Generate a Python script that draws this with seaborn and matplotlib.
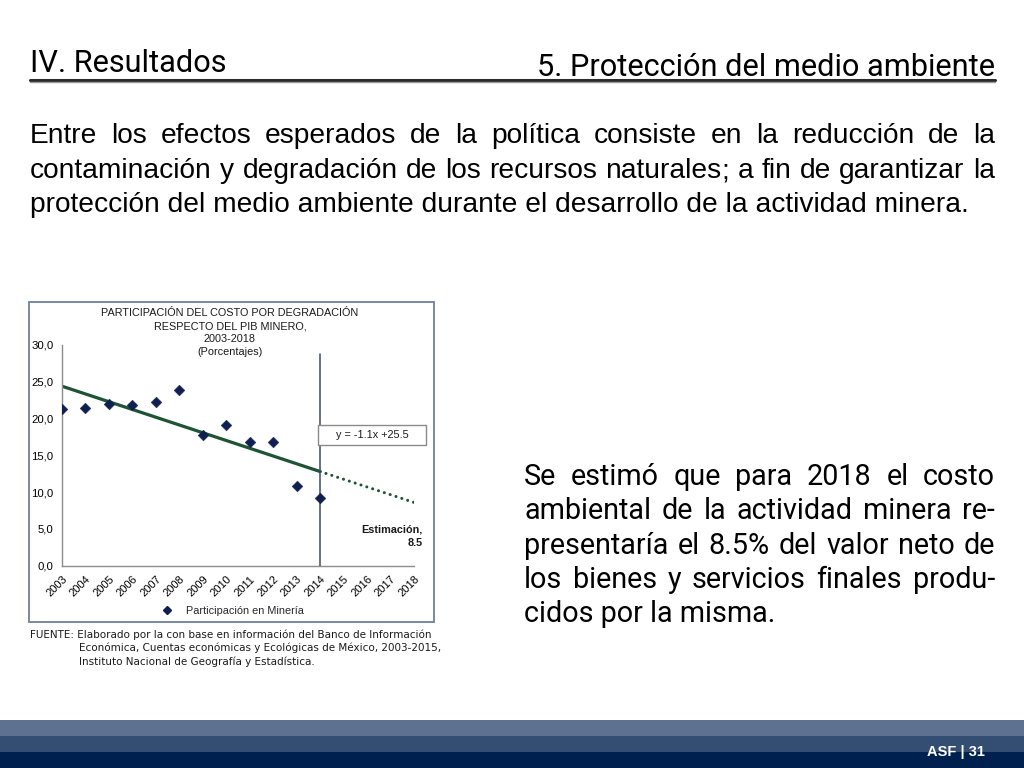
import matplotlib
matplotlib.use("Agg")
import matplotlib.pyplot as plt
import seaborn as sns
import numpy as np
import pandas as pd
from matplotlib.lines import Line2D
from matplotlib.patches import Rectangle

# ---------------- data ----------------
obs_years = [2003, 2004, 2005, 2006, 2007, 2008, 2009, 2010, 2011, 2012, 2013, 2014]
participacion = [21.3, 21.5, 22.0, 21.8, 22.3, 23.9, 17.8, 19.1, 16.8, 16.8, 10.9, 9.2]
trend_years = [2003, 2014]
trend_values = [24.4, 12.8]
proj_years = [2014, 2018]
proj_values = [12.8, 8.6]
cutoff_year = 2014
x_tick_labels = [str(y) for y in range(2003, 2019)]
y_ticks = [0, 5, 10, 15, 20, 25, 30]
y_tick_labels = ["0,0", "5,0", "10,0", "15,0", "20,0", "25,0", "30,0"]
chart_title = ["PARTICIPACIÓN DEL COSTO POR DEGRADACIÓN", "RESPECTO DEL PIB MINERO,", "2003-2018", "(Porcentajes)"]
legend_label = "Participación en Minería"
equation = "y = -1.1x +25.5"
estimate_label = ["Estimación,", "8.5"]

header_left = "IV. Resultados"
header_right = "5. Protección del medio ambiente"
body_lines = [
    "Entre los efectos esperados de la política consiste en la reducción de la",
    "contaminación y degradación de los recursos naturales; a fin de garantizar la",
    "protección del medio ambiente durante el desarrollo de la actividad minera.",
]
side_lines = [
    "Se estimó que para 2018 el costo",
    "ambiental de la actividad minera re-",
    "presentaría el 8.5% del valor neto de",
    "los bienes y servicios finales produ-",
    "cidos por la misma.",
]
source_lines = [
    "FUENTE: Elaborado por la con base en información del Banco de Información",
    "Económica, Cuentas económicas y Ecológicas de México, 2003-2015,",
    "Instituto Nacional de Geografía y Estadística.",
]
footer_text = "ASF | 31"

# ---------------- setup ----------------
sns.set_theme(style="white")
plt.rcParams["font.family"] = ["Liberation Sans", "DejaVu Sans"]

W, H = 1024, 768
fig = plt.figure(figsize=(W / 100, H / 100), dpi=100)
fig.patch.set_facecolor("white")
renderer = fig.canvas.get_renderer()


def fx(x):
    return x / W


def fy(y):
    return 1 - y / H


def text_width(s, size, family, weight="normal"):
    t = fig.text(0, 0, s, fontsize=size, family=family, weight=weight)
    w = t.get_window_extent(renderer).width
    t.remove()
    return w


def fit_size(s, target, family, weight="normal"):
    return 10 * target / text_width(s, 10, family, weight)


def put_word(x, yb, w, size, family, color):
    # draw trailing punctuation separately to keep a common baseline
    if len(w) > 1 and w[-1] in ";":
        core = w[:-1]
        fig.text(fx(x), fy(yb), core, fontsize=size, family=family,
                 color=color, va="baseline", ha="left")
        cw = text_width(core, size, family)
        fig.text(fx(x + cw), fy(yb), w[-1], fontsize=size, family=family,
                 color=color, va="baseline", ha="left")
    else:
        fig.text(fx(x), fy(yb), w, fontsize=size, family=family,
                 color=color, va="baseline", ha="left")


def justified(lines, x0, x1, baselines, size, family, color="black"):
    for i, (line, yb) in enumerate(zip(lines, baselines)):
        words = line.split()
        if i == len(lines) - 1:
            fig.text(fx(x0), fy(yb), line, fontsize=size, family=family,
                     color=color, va="baseline", ha="left")
            continue
        widths = []
        for w in words:
            if len(w) > 1 and w[-1] in ";":
                widths.append(text_width(w[:-1], size, family) + text_width(w[-1], size, family))
            else:
                widths.append(text_width(w, size, family))
        gap = (x1 - x0 - sum(widths)) / (len(words) - 1)
        x = x0
        for w, wd in zip(words, widths):
            put_word(x, yb, w, size, family, color)
            x += wd + gap


# ---------------- header ----------------
hfam = "Roboto"
hs = fit_size(header_right, 458, hfam)
fig.text(fx(30), fy(72), header_left, fontsize=hs, family=hfam, va="baseline", ha="left", color="black")
fig.text(fx(995), fy(76), header_right, fontsize=hs, family=hfam, va="baseline", ha="right", color="black")
fig.add_artist(Line2D([fx(30), fx(995)], [fy(79.5), fy(79.5)], color="#2b2b2b", lw=2.2))
fig.add_artist(Line2D([fx(30), fx(995)], [fy(81.5), fy(81.5)], color="#9a9a9a", lw=1.0))

# ---------------- body ----------------
bfam = "Liberation Sans"
bs = fit_size(body_lines[-1], 942, bfam)
justified(body_lines, 30, 995, [143, 178, 212], bs, bfam)

sfam = "Roboto"
ss = fit_size(side_lines[-1], 251, sfam)
justified(side_lines, 524, 995, [485, 519, 554, 588, 622], ss, sfam)

# ---------------- chart frame ----------------
fig.add_artist(Rectangle((fx(29), fy(622)), (434 - 29) / W, (622 - 302) / H,
                         transform=fig.transFigure, fill=False,
                         edgecolor="#6f8098", lw=1.3))

navy = "#0f1f4f"
green = "#1d5534"

ax = fig.add_axes([fx(62), fy(565.7), (414 - 62) / W, (565.7 - 345) / H])
ax.set_facecolor("white")

sns.lineplot(x=trend_years, y=trend_values, ax=ax, color=green, lw=2.3)
sns.lineplot(x=proj_years, y=proj_values, ax=ax, color=green, lw=2.2,
             dashes=False, linestyle=(0, (0.01, 2.0)), dash_capstyle="round")
sns.scatterplot(x=obs_years, y=participacion, ax=ax, marker="D", s=30,
                color=navy, edgecolor=navy, linewidth=0.3, zorder=5, legend=False)
ax.axvline(cutoff_year, ymin=0, ymax=0.96, color="#3d4a5c", lw=1.1, zorder=4)

ax.set_xlim(2003, 2018)
ax.set_ylim(0, 30)
ax.set_xticks(range(2003, 2019))
ax.set_xticklabels(x_tick_labels, rotation=45, ha="right", rotation_mode="anchor",
                   fontsize=8, color="black")
ax.set_yticks(y_ticks)
ax.set_yticklabels(y_tick_labels, fontsize=8.2, color="black")
ax.tick_params(axis="x", direction="out", length=4, width=0.8, color="#888888", pad=2)
ax.tick_params(axis="y", length=0, pad=6)
ax.grid(False)
for side in ["top", "right"]:
    ax.spines[side].set_visible(False)
for side in ["left", "bottom"]:
    ax.spines[side].set_color("#8c8c8c")
    ax.spines[side].set_linewidth(1.0)
ax.set_xlabel("")
ax.set_ylabel("")

# chart title
for i, line in enumerate(chart_title):
    fig.text(fx(230), fy(313 + 13 * i), line, fontsize=7.8, ha="center", va="center", color="#1a1a1a")

# equation box
fig.add_artist(Rectangle((fx(318), fy(445)), (426 - 318) / W, (445 - 425) / H,
                         transform=fig.transFigure, facecolor="white",
                         edgecolor="#8a8a8a", lw=1.0, zorder=6))
fig.text(fx(372), fy(435.5), equation, fontsize=7.8, ha="center", va="center", color="#1a1a1a", zorder=7)

# estimate label
fig.text(fx(423), fy(529), estimate_label[0], fontsize=7.8, weight="bold", ha="right", va="center", color="#1a1a1a")
fig.text(fx(423), fy(543), estimate_label[1], fontsize=7.8, weight="bold", ha="right", va="center", color="#1a1a1a")

# legend
ax.legend(handles=[Line2D([], [], marker="D", ls="none", color=navy, markersize=4.5)],
          labels=[legend_label], loc="center", bbox_to_anchor=(fx(230), fy(611)),
          bbox_transform=fig.transFigure, frameon=False, fontsize=7.8,
          handletextpad=0.8, borderpad=0)

# source
srcfam = "DejaVu Sans"
srs = fit_size(source_lines[0], 400, srcfam)
fig.text(fx(30), fy(638), source_lines[0], fontsize=srs, family=srcfam, va="baseline", ha="left", color="#1a1a1a")
fig.text(fx(79), fy(651), source_lines[1], fontsize=srs, family=srcfam, va="baseline", ha="left", color="#1a1a1a")
fig.text(fx(79), fy(665), source_lines[2], fontsize=srs, family=srcfam, va="baseline", ha="left", color="#1a1a1a")

# ---------------- footer ----------------
bands = [(720, 735.5, "#5f7190"), (735.5, 751.5, "#344e73"), (751.5, 768, "#00214f")]
for y0, y1, c in bands:
    fig.add_artist(Rectangle((0, fy(y1)), 1, (y1 - y0) / H, transform=fig.transFigure,
                             facecolor=c, edgecolor="none", zorder=0))
fig.text(fx(985), fy(752), footer_text, fontsize=10.5, weight="bold",
         family=["Liberation Sans Narrow", "Liberation Sans", "DejaVu Sans"],
         color="white", ha="right", va="center")

fig.savefig("out.png", dpi=100, facecolor="white")
